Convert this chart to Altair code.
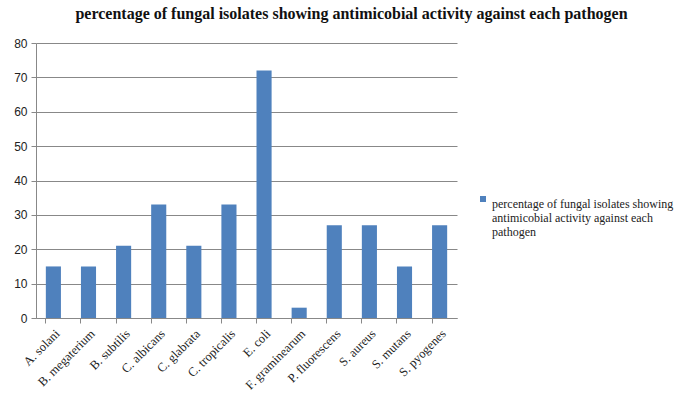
import altair as alt
import pandas as pd

categories = ["A. solani", "B. megaterium", "B. subtilis", "C. albicans", "C. glabrata",
              "C. tropicalis", "E. coli", "F. graminearum", "P. fluorescens", "S. aureus",
              "S. mutans", "S. pyogenes"]
values = [15, 15, 21, 33, 21, 33, 72, 3, 27, 27, 15, 27]
series_name = "percentage of fungal isolates showing antimicobial activity against each pathogen"
title_text = "percentage of fungal isolates showing antimicobial activity  against each pathogen"

df = pd.DataFrame({"pathogen": categories, "value": values, "series": series_name})

chart = alt.Chart(df).mark_bar(color="#4F81BD").encode(
    x=alt.X("pathogen:N", sort=categories, title=None,
            scale=alt.Scale(paddingInner=0.57, paddingOuter=0.28),
            axis=alt.Axis(labelAngle=-45, labelFont="Liberation Serif", labelFontSize=12.5,
                          labelColor="#222", bandPosition=0, tickColor="#888",
                          domainColor="#888", tickSize=5, labelPadding=4)),
    y=alt.Y("value:Q", title=None, scale=alt.Scale(domain=[0, 80]),
            axis=alt.Axis(values=list(range(0, 81, 10)), labelFont="Liberation Sans",
                          labelFontSize=12, labelColor="#222", gridColor="#888",
                          tickColor="#888", domainColor="#888", tickSize=5, labelPadding=4)),
    fill=alt.Fill("series:N", scale=alt.Scale(range=["#4F81BD"]),
                  legend=alt.Legend(title=None, orient="none", legendX=441, legendY=150,
                                    symbolType="square", symbolSize=36,
                                    labelFont="Liberation Serif", labelFontSize=12,
                                    labelColor="#222", labelLimit=300, labelOffset=3,
                                    labelBaseline="top",
                                    labelExpr="['percentage of fungal isolates showing', 'antimicobial activity against each', 'pathogen']")),
).properties(
    width=421, height=275,
    padding={"left": 36, "top": 43, "right": 231, "bottom": 76},
    autosize=alt.AutoSizeParams(type="none"),
    title=alt.TitleParams(title_text, font="Liberation Serif", fontSize=16, fontWeight="bold",
                          color="#111", anchor="middle", dx=105, offset=15),
).configure_view(stroke=None).configure_axis(grid=False).configure_axisY(grid=True
).configure_legend(labelFont="Liberation Serif", labelFontSize=12)

chart.save("out.html", embed_options={"renderer": "svg", "actions": False})
